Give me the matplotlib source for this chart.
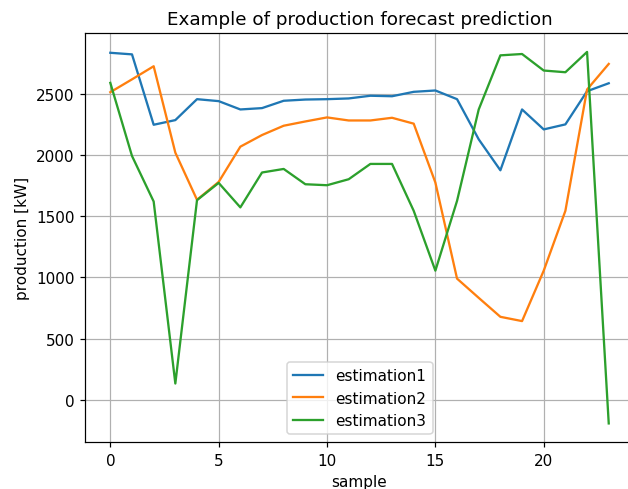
import matplotlib
matplotlib.use("Agg")
import matplotlib.pyplot as plt

# Forecast estimates per sample [kW]
samples = list(range(24))
estimation1 = [2835, 2822, 2247, 2285, 2456, 2440, 2372, 2383, 2443, 2453,
               2456, 2462, 2484, 2480, 2516, 2527, 2456, 2128, 1875, 2372,
               2209, 2250, 2521, 2586]
estimation2 = [2513, 2618, 2725, 2019, 1634, 1780, 2068, 2163, 2239, 2274,
               2307, 2282, 2282, 2304, 2256, 1775, 990, 833, 678, 643,
               1055, 1544, 2535, 2744]
estimation3 = [2589, 1992, 1620, 133, 1631, 1772, 1572, 1857, 1886, 1761,
               1753, 1802, 1927, 1927, 1544, 1055, 1625, 2372, 2814, 2825,
               2690, 2676, 2842, -193]

DPI = 110
fig = plt.figure(figsize=(628 / DPI, 490 / DPI), dpi=DPI)
ax = fig.add_axes([0.136, 0.0959, 0.873, 0.834])

ax.plot(samples, estimation1, label="estimation1")
ax.plot(samples, estimation2, label="estimation2")
ax.plot(samples, estimation3, label="estimation3")

ax.set_title("Example of production forecast prediction")
ax.set_xlabel("sample")
ax.set_ylabel("production [kW]")
ax.grid(True)
ax.legend(loc="lower center")

fig.savefig("out.png", dpi=DPI)
